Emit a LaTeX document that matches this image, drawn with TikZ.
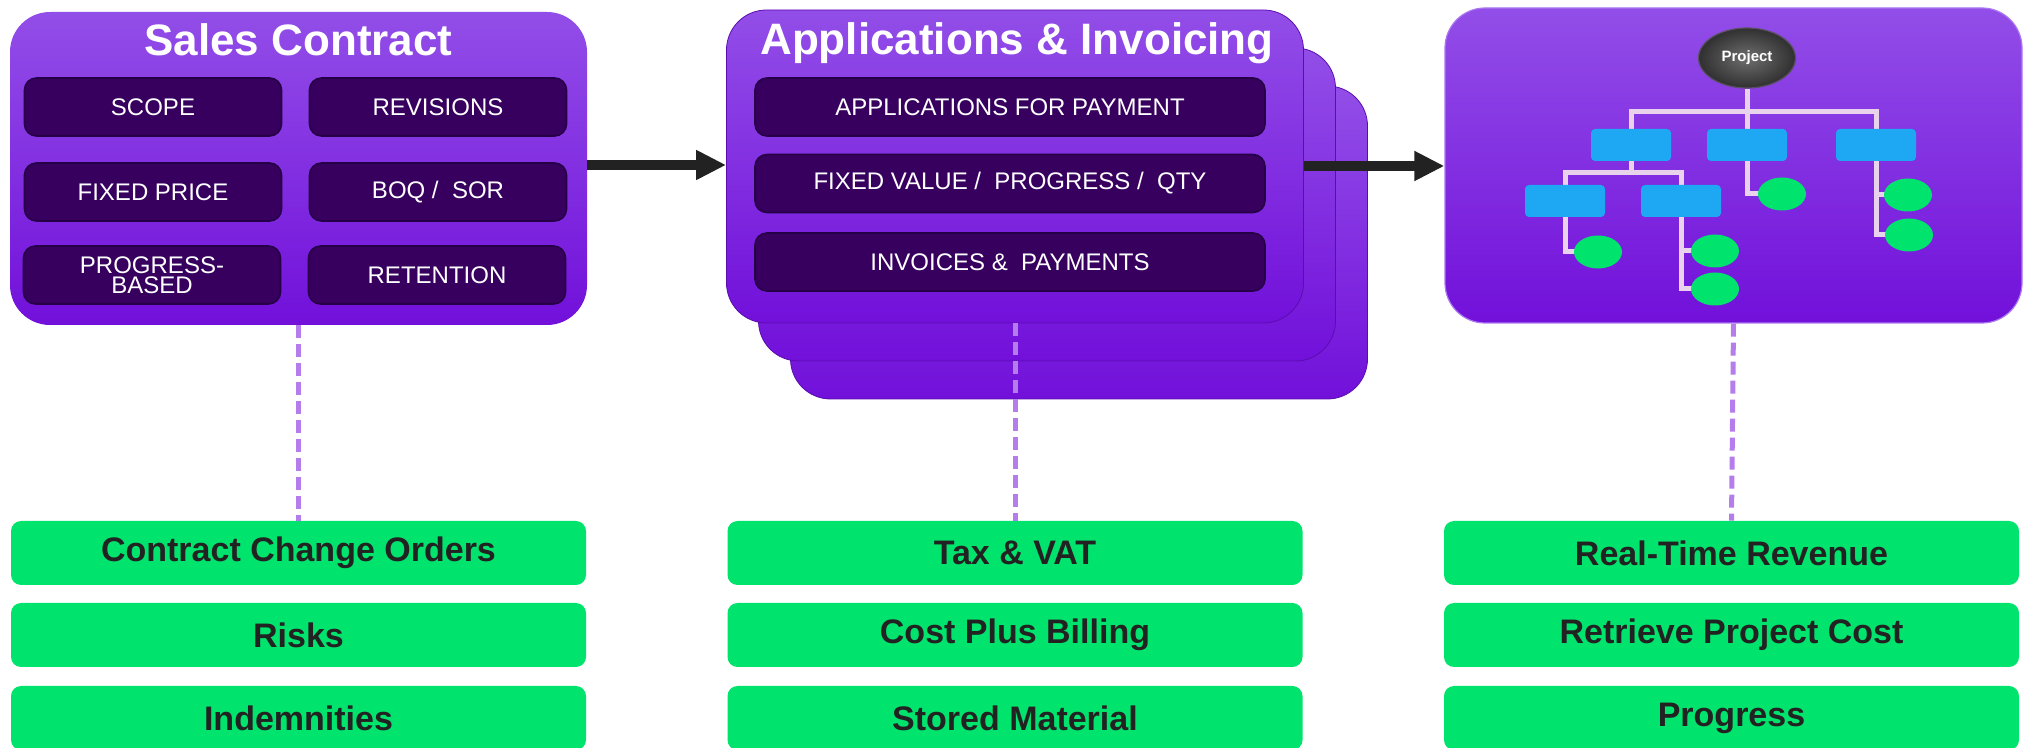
\documentclass[tikz,border=0pt]{standalone}
\usepackage{fontspec}
\setmainfont{Liberation Sans}
\usetikzlibrary{arrows.meta,shapes.geometric,calc}
\definecolor{ptop}{RGB}{146,78,232}
\definecolor{pbot}{RGB}{114,16,218}
\definecolor{inner}{RGB}{55,0,95}
\definecolor{innerb}{RGB}{38,0,70}
\definecolor{gbox}{RGB}{0,227,109}
\definecolor{gtext}{RGB}{34,34,34}
\definecolor{dashc}{RGB}{180,125,235}
\definecolor{treec}{RGB}{232,210,236}
\definecolor{bluebox}{RGB}{30,167,242}
\definecolor{arrowc}{RGB}{34,34,34}
\definecolor{pedge}{RGB}{170,120,240}
\tikzset{
  bigbox/.style={rectangle, rounded corners=20pt, top color=ptop, bottom color=pbot,
    minimum width=288.5pt, minimum height=156.5pt, inner sep=0pt},
  layerbox/.style={bigbox, draw=pbot!80!black, line width=0.4pt},
  titletext/.style={text=white, font=\bfseries\fontsize{22}{24}\selectfont, inner sep=0pt},
  darkbox/.style={rectangle, rounded corners=6pt, fill=inner, draw=innerb, line width=0.8pt,
    text=white, font=\fontsize{12}{10}\selectfont, align=center, inner sep=0pt,
    minimum height=29pt},
  greenbox/.style={rectangle, rounded corners=5pt, fill=gbox, text=gtext,
    font=\bfseries\fontsize{17}{20}\selectfont, minimum width=287.5pt, minimum height=32pt, inner sep=0pt},
  bigarrow/.style={draw=arrowc, line width=5pt, -{Triangle[length=15pt,width=14pt]}},
  linkdash/.style={draw=dashc, line width=2.5pt, dash pattern=on 6.5pt off 3pt},
  tree/.style={draw=treec, line width=2.5pt},
  wbsbox/.style={rectangle, rounded corners=2pt, fill=bluebox, minimum width=40pt, minimum height=16pt, inner sep=0pt},
  leaf/.style={ellipse, fill=gbox, minimum width=24pt, minimum height=16.5pt, inner sep=0pt},
}
\begin{document}
\begin{tikzpicture}[x=0.5pt, y=-0.5pt]
\useasboundingbox (0,0) rectangle (2026,748);
\begin{scope}
\clip (0,0) rectangle (2026,748);

% ---- Box 1: Sales Contract
\node[bigbox] (box1) at (298.5,168.5) {};
\node[titletext] (t1) at (298.5,40) {Sales Contract};
\node[darkbox, minimum width=128.5pt] (scope) at (153,107) {SCOPE};
\node[darkbox, minimum width=128.5pt] (rev) at (438,107) {REVISIONS};
\node[darkbox, minimum width=128.5pt] (fixed) at (153,192) {FIXED PRICE};
\node[darkbox, minimum width=128.5pt] (boq) at (438,192) {BOQ /\ \ SOR};
\node[darkbox, minimum width=128.5pt] (prog) at (152,275) {PROGRESS-\\BASED};
\node[darkbox, minimum width=128.5pt] (ret) at (437,275) {RETENTION};

% ---- Box 2: Applications & Invoicing (stack)
\node[layerbox] (box2c) at (1079,242.5) {};
\node[layerbox] (box2b) at (1047,204.5) {};
\node[layerbox] (box2) at (1015,166.5) {};
\node[titletext] (t2) at (1017,43) {Applications \& Invoicing};
\node[darkbox, minimum width=255pt] (app) at (1010,107) {APPLICATIONS FOR PAYMENT};
\node[darkbox, minimum width=255pt] (fv) at (1010,183.5) {FIXED VALUE /\ \ PROGRESS /\ \ QTY};
\node[darkbox, minimum width=255pt] (inv) at (1010,262) {INVOICES \&\ \ PAYMENTS};

% ---- Box 3: project tree
\node[bigbox, minimum height=157.5pt, draw=pedge, line width=0.6pt] (box3) at (1733.5,165.5) {};
\node[ellipse, minimum width=48.5pt, minimum height=30pt, inner sep=0pt,
      inner color={rgb,255:red,110;green,110;blue,110}, outer color={rgb,255:red,48;green,48;blue,48},
      draw={rgb,255:red,90;green,80;blue,100}, line width=0.6pt,
      text=white, font=\bfseries\fontsize{7.5}{9}\selectfont] (proj) at (1747,58) {Project};
\coordinate (bus1) at (1747,112);
\coordinate (bus2) at (1631,173);
\coordinate (b1c) at (1631,145);
\coordinate (b2c) at (1747,145);
\coordinate (b3c) at (1876,145);
\coordinate (b4c) at (1565,201);
\coordinate (b5c) at (1681,201);
\coordinate (e1c) at (1782,194);
\coordinate (e2c) at (1908,195);
\coordinate (e3c) at (1909,235);
\coordinate (e4c) at (1598,252);
\coordinate (e5c) at (1715,251);
\coordinate (e6c) at (1715,289);
% tree lines first (nodes placed on top afterwards)
\draw[tree] (proj.south) -- (bus1);
\draw[tree] (b1c) |- (bus1) -| (b3c);
\draw[tree] (b2c) -- (bus1);
\draw[tree] (b1c) -- (bus2);
\draw[tree] (b4c) |- (bus2) -| (b5c);
\draw[tree] (b2c) |- (e1c);
\draw[tree] (b3c) |- (e3c);
\draw[tree] (b3c |- e2c) -- (e2c);
\draw[tree] (b4c) |- (e4c);
\draw[tree] (b5c) |- (e6c);
\draw[tree] (b5c |- e5c) -- (e5c);
\node[wbsbox] (b1) at (b1c) {};
\node[wbsbox] (b2) at (b2c) {};
\node[wbsbox] (b3) at (b3c) {};
\node[wbsbox] (b4) at (b4c) {};
\node[wbsbox] (b5) at (b5c) {};
\node[leaf] (e1) at (e1c) {};
\node[leaf] (e2) at (e2c) {};
\node[leaf] (e3) at (e3c) {};
\node[leaf] (e4) at (e4c) {};
\node[leaf] (e5) at (e5c) {};
\node[leaf] (e6) at (e6c) {};

% ---- arrows
\draw[bigarrow] (box1.east |- 0,165) -- (box2.west |- 0,165);
\draw[bigarrow] (box2.east |- 0,166) -- (box3.west |- 0,166);

% ---- green boxes
\node[greenbox] (g11) at (298.5,553) {Contract Change Orders};
\node[greenbox] (g12) at (298.5,635) {Risks};
\node[greenbox] (g13) at (298.5,718) {Indemnities};
\node[greenbox] (g21) at (1015,553) {Tax \& VAT};
\node[greenbox] (g22) at (1015,635) {Cost Plus Billing};
\node[greenbox] (g23) at (1015,718) {Stored Material};
\node[greenbox] (g31) at (1731.5,553) {Real-Time Revenue};
\node[greenbox] (g32) at (1731.5,635) {Retrieve Project Cost};
\node[greenbox] (g33) at (1731.5,718) {Progress};

% ---- dashed links
\draw[linkdash] (box1.south) -- (g11.north);
\draw[linkdash] (box2.south) -- (g21.north);
\draw[linkdash] (box3.south) -- (g31.north);
\end{scope}
\end{tikzpicture}
\end{document}
